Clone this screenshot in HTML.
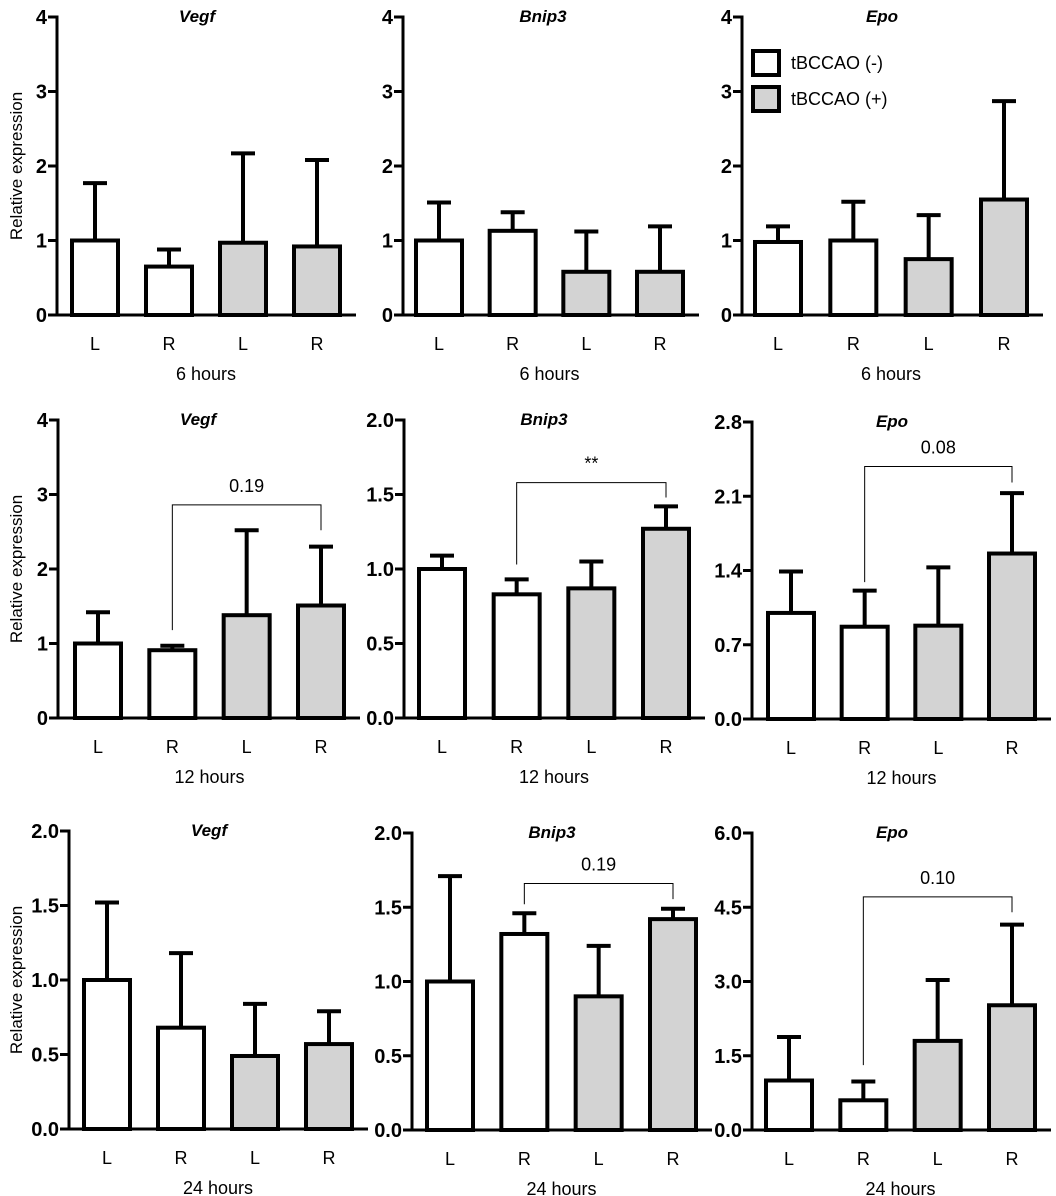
<!DOCTYPE html>
<html><head><meta charset="utf-8"><style>
html,body{margin:0;padding:0;background:#fff;}
svg{display:block;}
text{font-family:"Liberation Sans",sans-serif;fill:#000;}
</style></head><body>
<svg id="fig" width="1056" height="1196" viewBox="0 0 1056 1196" xmlns="http://www.w3.org/2000/svg"></svg>
<script>
const categories = ["L","R","L","R"];
const groupFill = ["#fff","#fff","#d3d3d3","#d3d3d3"];
const genes = ["Vegf","Bnip3","Epo","Vegf","Bnip3","Epo","Vegf","Bnip3","Epo"];
const timeLabels = ["6 hours","6 hours","6 hours","12 hours","12 hours","12 hours","24 hours","24 hours","24 hours"];
const yMax = [4,4,4,4,2,2.8,2,2,6];
const tickLabels = [
 ["0","1","2","3","4"],["0","1","2","3","4"],["0","1","2","3","4"],
 ["0","1","2","3","4"],["0.0","0.5","1.0","1.5","2.0"],["0.0","0.7","1.4","2.1","2.8"],
 ["0.0","0.5","1.0","1.5","2.0"],["0.0","0.5","1.0","1.5","2.0"],["0.0","1.5","3.0","4.5","6.0"]];
const means = [
 [1.0,0.65,0.97,0.92],[1.0,1.13,0.58,0.58],[0.98,1.0,0.75,1.55],
 [1.0,0.91,1.38,1.51],[1.0,0.83,0.87,1.27],[1.0,0.87,0.88,1.56],
 [1.0,0.68,0.49,0.57],[1.0,1.32,0.90,1.42],[1.0,0.6,1.8,2.52]];
const errTops = [
 [1.77,0.88,2.17,2.08],[1.51,1.38,1.12,1.19],[1.19,1.52,1.34,2.87],
 [1.42,0.97,2.52,2.30],[1.09,0.93,1.05,1.42],[1.39,1.21,1.43,2.13],
 [1.52,1.18,0.84,0.79],[1.71,1.46,1.24,1.49],[1.88,0.98,3.03,4.15]];
const sigLabels = [null,null,null,"0.19","**","0.08",null,"0.19","0.10"];
const sigLevels = [0,0,0,2.86,1.58,2.38,0,1.66,4.71];
const sigLeftFeet = [0,0,0,1.18,1.03,1.29,0,1.52,1.31];
const sigRightFeet = [0,0,0,2.52,1.48,2.23,0,1.555,4.40];

// panel geometry: axisX, topY, zeroY, firstBarLeft, lastBarLeft
const geom = [
 [57,17,315,70,292],[403,17,315,414,635],[742,17,315,753,979],
 [58,420,718,73,296],[404,420,718,417,641],[752,422,719,766,987],
 [69,831,1129,82,304],[412,833,1130,425,648],[752,833,1130,764,987]];

const NS="http://www.w3.org/2000/svg";
const svg=document.getElementById('fig');
function mk(tag,attrs,parent){const e=document.createElementNS(NS,tag);for(const k in attrs)e.setAttribute(k,attrs[k]);(parent||svg).appendChild(e);return e;}

for(let p=0;p<9;p++){
 const [ax,top,zero,b0,b3]=geom[p];
 const g=mk('g',{});
 
 
 const y=v=>zero-(v/yMax[p])*(zero-top);
 const pitch=(b3-b0)/3, bw=50;
 const bx=i=>b0+i*pitch;
 const xEnd=b3+bw+14;
 for(let i=0;i<4;i++){
  const yt=y(means[p][i]), ye=y(errTops[p][i]), cx=bx(i)+bw/2;
  const eb=mk('line',{x1:cx,x2:cx,y1:yt,y2:ye,stroke:'#000','stroke-width':4},g);
  
  
  const cap=mk('line',{x1:cx-12,x2:cx+12,y1:ye,y2:ye,stroke:'#000','stroke-width':4},g);
  
  
  const r=mk('rect',{x:bx(i)+2,y:yt,width:bw-4,height:zero-yt,fill:groupFill[i],stroke:'#000','stroke-width':4},g);
  
  
  const t=mk('text',{x:cx,y:zero+35,'font-size':18,'text-anchor':'middle'},g);
  t.textContent=categories[i];
  
  
 }
 const ya=mk('line',{x1:ax,x2:ax,y1:top-1.5,y2:zero+1.5,stroke:'#000','stroke-width':3},g);
 
 
 const xa=mk('line',{x1:ax-9,x2:xEnd,y1:zero,y2:zero,stroke:'#000','stroke-width':3},g);
 
 
 for(let k=0;k<5;k++){
  const ty=top+(zero-top)*(4-k)/4;
  const tk=mk('line',{x1:ax-9,x2:ax,y1:ty,y2:ty,stroke:'#000','stroke-width':3},g);
  
  
  const tl=mk('text',{x:ax-10,y:ty+7,'font-size':20,'font-weight':'bold','text-anchor':'end'},g);
  tl.textContent=tickLabels[p][k];
  
  
 }
 const tt=mk('text',{x:ax+140,y:top+5,'font-size':17,'font-weight':'bold','font-style':'italic','text-anchor':'middle'},g);
 tt.textContent=genes[p];
 
 
 const hl=mk('text',{x:(b0+b3+bw)/2,y:zero+65,'font-size':18,'text-anchor':'middle'},g);
 hl.textContent=timeLabels[p];
 
 
 if(p%3===0){
  const yt=mk('text',{x:0,y:0,'font-size':17,'text-anchor':'middle',transform:`translate(22,${(top+zero)/2}) rotate(-90)`},g);
  yt.textContent='Relative expression';
  
  
 }
 if(sigLabels[p]){
  const xl=bx(1)+bw/2, xr=bx(3)+bw/2, ly=y(sigLevels[p]);
  const br=mk('path',{d:`M${xl},${y(sigLeftFeet[p])}V${ly}H${xr}V${y(sigRightFeet[p])}`,fill:'none',stroke:'#000','stroke-width':1},g);
  
  
  const sl=mk('text',{x:(xl+xr)/2,y:ly-13,'font-size':18,'text-anchor':'middle'},g);
  sl.textContent=sigLabels[p];
  
  
 }
}
const lg=mk('g',{});


const legendLabels=["tBCCAO (-)","tBCCAO (+)"];
const legendFills=["#fff","#d3d3d3"];
for(let i=0;i<2;i++){
 const yy=51+i*36;
 const r=mk('rect',{x:753,y:yy,width:26,height:24,fill:legendFills[i],stroke:'#000','stroke-width':4},lg);
 
 
 const t=mk('text',{x:791,y:yy+18,'font-size':18},lg);
 t.textContent=legendLabels[i];
 
 
}
</script>
</body></html>
